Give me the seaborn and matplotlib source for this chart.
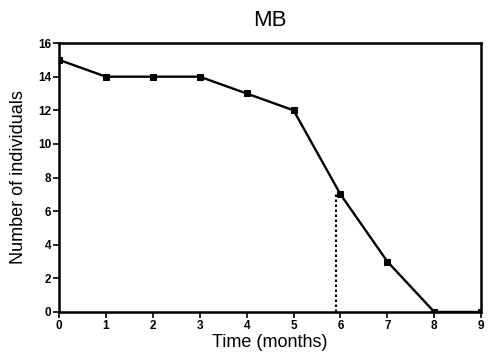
import matplotlib
matplotlib.use("Agg")
import matplotlib.pyplot as plt
import seaborn as sns
import pandas as pd

months = [0, 1, 2, 3, 4, 5, 6, 7, 8, 9]
individuals = [15, 14, 14, 14, 13, 12, 7, 3, 0, 0]
dotted_x = 5.9
dotted_top = 7

sns.set_theme(style="ticks")
plt.rcParams['font.family'] = ['Liberation Sans', 'DejaVu Sans']
plt.rcParams['text.color'] = 'black'
plt.rcParams['axes.labelcolor'] = 'black'

df = pd.DataFrame({"month": months, "n": individuals})
fig = plt.figure(figsize=(4.88, 3.59), dpi=100)
ax = fig.add_axes([0.121, 0.131, 0.865, 0.749])
sns.lineplot(data=df, x="month", y="n", ax=ax, color="black", linewidth=1.7,
             marker="s", markersize=5, markeredgecolor="black")
ax.plot([dotted_x, dotted_x], [0, dotted_top], color="black", linestyle=(0, (1.2, 1.2)), linewidth=1.5)
ax.set_xlim(0, 9)
ax.set_ylim(0, 16)
ax.set_xticks(months)
ax.set_yticks(range(0, 17, 2))
for s in ax.spines.values():
    s.set_linewidth(1.8)
    s.set_color("black")
ax.tick_params(axis="both", direction="out", length=4, width=1.2, labelsize=8.5, pad=1.5, colors="black")
for lab in ax.get_xticklabels() + ax.get_yticklabels():
    lab.set_fontweight("bold")
ax.set_xlabel("Time (months)", fontsize=13, labelpad=2, color="black")
ax.set_ylabel("Number of individuals", fontsize=13, labelpad=8, color="black")
ax.set_title("MB", fontsize=16, pad=12, color="black")
fig.savefig("out.png", dpi=100)
